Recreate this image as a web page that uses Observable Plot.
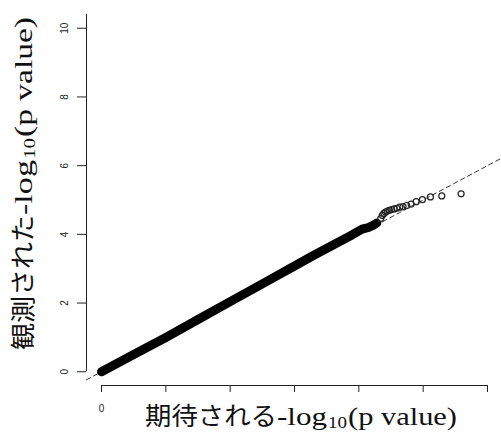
<!DOCTYPE html>
<html>
<head>
<meta charset="utf-8">
<script src="https://cdn.jsdelivr.net/npm/d3@7"></script>
<script src="https://cdn.jsdelivr.net/npm/@observablehq/plot@0.6"></script>
<style>
  html, body { margin: 0; padding: 0; background: #fff; }
  #chart { position: relative; width: 501px; height: 435px; }
</style>
</head>
<body>
<div id="chart"></div>
<script>
// ---- data ----
// dense, overplotted part of the QQ plot (centre line of the black band)
const bandExpected = [0, 0.5, 1.0, 1.5, 2.0, 2.5, 3.0, 3.3, 3.6, 3.9, 4.05, 4.15, 4.22, 4.28];
const bandObserved = [0, 0.5, 1.0, 1.52, 2.04, 2.56, 3.08, 3.39, 3.69, 3.99, 4.15, 4.2, 4.26, 4.33];
// sparse tail: individual open circles
const tailExpected = [4.34, 4.365, 4.39, 4.415, 4.444, 4.476, 4.511, 4.549, 4.59, 4.636, 4.687, 4.745, 4.812, 4.891, 4.988, 5.113, 5.289, 5.59];
const tailObserved = [4.46, 4.55, 4.61, 4.65, 4.68, 4.70, 4.72, 4.74, 4.76, 4.79, 4.81, 4.84, 4.88, 4.95, 5.01, 5.09, 5.12, 5.18];
// axes
const xTicks = [0, 1, 2, 3, 4, 5, 6];
const xLabeled = [0];
const yTicks = [0, 2, 4, 6, 8, 10];
const xDomain = [-0.2332, 6.2176];
const yDomain = [-0.4, 10.4];
const xTitleJa = "期待される";
const yTitleJa = "観測された";
const titleLog = "-log";
const titleSub = "10";
const titleRest = "(p value)";

const band = bandExpected.map((e, i) => ({e, o: bandObserved[i]}));
const tail = tailExpected.map((e, i) => ({e, o: tailObserved[i]}));

const chart = Plot.plot({
  width: 501,
  height: 435,
  marginLeft: 86,
  marginRight: 0,
  marginTop: 14,
  marginBottom: 50,
  style: {fontFamily: "'Liberation Sans', Arial, sans-serif", fontSize: "10px", color: "#222", background: "#fff"},
  x: {domain: xDomain, ticks: xTicks, tickSize: 7, tickFormat: () => "", label: null},
  y: {domain: yDomain, ticks: yTicks, tickSize: 9, tickFormat: () => "", label: null},
  marks: [
    Plot.ruleY([yDomain[0]], {x1: xTicks[0], x2: xTicks[xTicks.length - 1], stroke: "#222"}),
    Plot.ruleX([xDomain[0]], {y1: yTicks[0], y2: yDomain[1], stroke: "#222"}),
    Plot.line(xDomain, {x: d => d, y: d => d, stroke: "#333", strokeWidth: 1, strokeDasharray: "4.5,3.5"}),
    Plot.line(band, {x: "e", y: "o", stroke: "#000", strokeWidth: 9, strokeLinecap: "round", strokeLinejoin: "round"}),
    Plot.dot(tail, {x: "e", y: "o", r: 3, stroke: "#222", strokeWidth: 1.2, fill: "none"}),
    Plot.text(yTicks, {x: xDomain[0], y: d => d, dx: -22, rotate: -90, text: d => String(d), fill: "#222"}),
    Plot.text(xLabeled, {x: d => d, y: yDomain[0], dy: 23, text: d => String(d), fill: "#222"})
  ]
});

document.getElementById("chart").appendChild(chart);

// ---- axis titles (mixed Japanese gothic + serif with subscript) ----
const svg = d3.select(chart);
function addTitle(g, parts) {
  parts.forEach(p => {
    g.append("text")
      .attr("x", p.x).attr("y", p.y)
      .attr("text-anchor", "start")
      .attr("textLength", p.len)
      .attr("lengthAdjust", "spacingAndGlyphs")
      .attr("font-family", p.family)
      .attr("font-size", p.size)
      .attr("fill", "#111")
      .text(p.text);
  });
}
const ja = "'Noto Sans CJK JP', 'Noto Sans CJK SC', sans-serif";
const serif = "'Liberation Serif', 'DejaVu Serif', serif";

const gx = svg.append("g").attr("text-anchor", "start").attr("transform", "translate(145,425)");
addTitle(gx, [
  {text: xTitleJa, x: 0, y: 0, len: 132, family: ja, size: 25},
  {text: titleLog, x: 132, y: 0, len: 50, family: serif, size: 26},
  {text: titleSub, x: 183, y: 3, len: 19, family: serif, size: 17},
  {text: titleRest, x: 203, y: 0, len: 109, family: serif, size: 26}
]);

const gy = svg.append("g").attr("text-anchor", "start").attr("transform", "translate(32,350) rotate(-90)");
addTitle(gy, [
  {text: yTitleJa, x: 0, y: 0, len: 135, family: ja, size: 25},
  {text: titleLog, x: 135, y: 0, len: 55, family: serif, size: 26},
  {text: titleSub, x: 191, y: 3, len: 21, family: serif, size: 17},
  {text: titleRest, x: 213, y: 0, len: 120, family: serif, size: 26}
]);
</script>
</body>
</html>
